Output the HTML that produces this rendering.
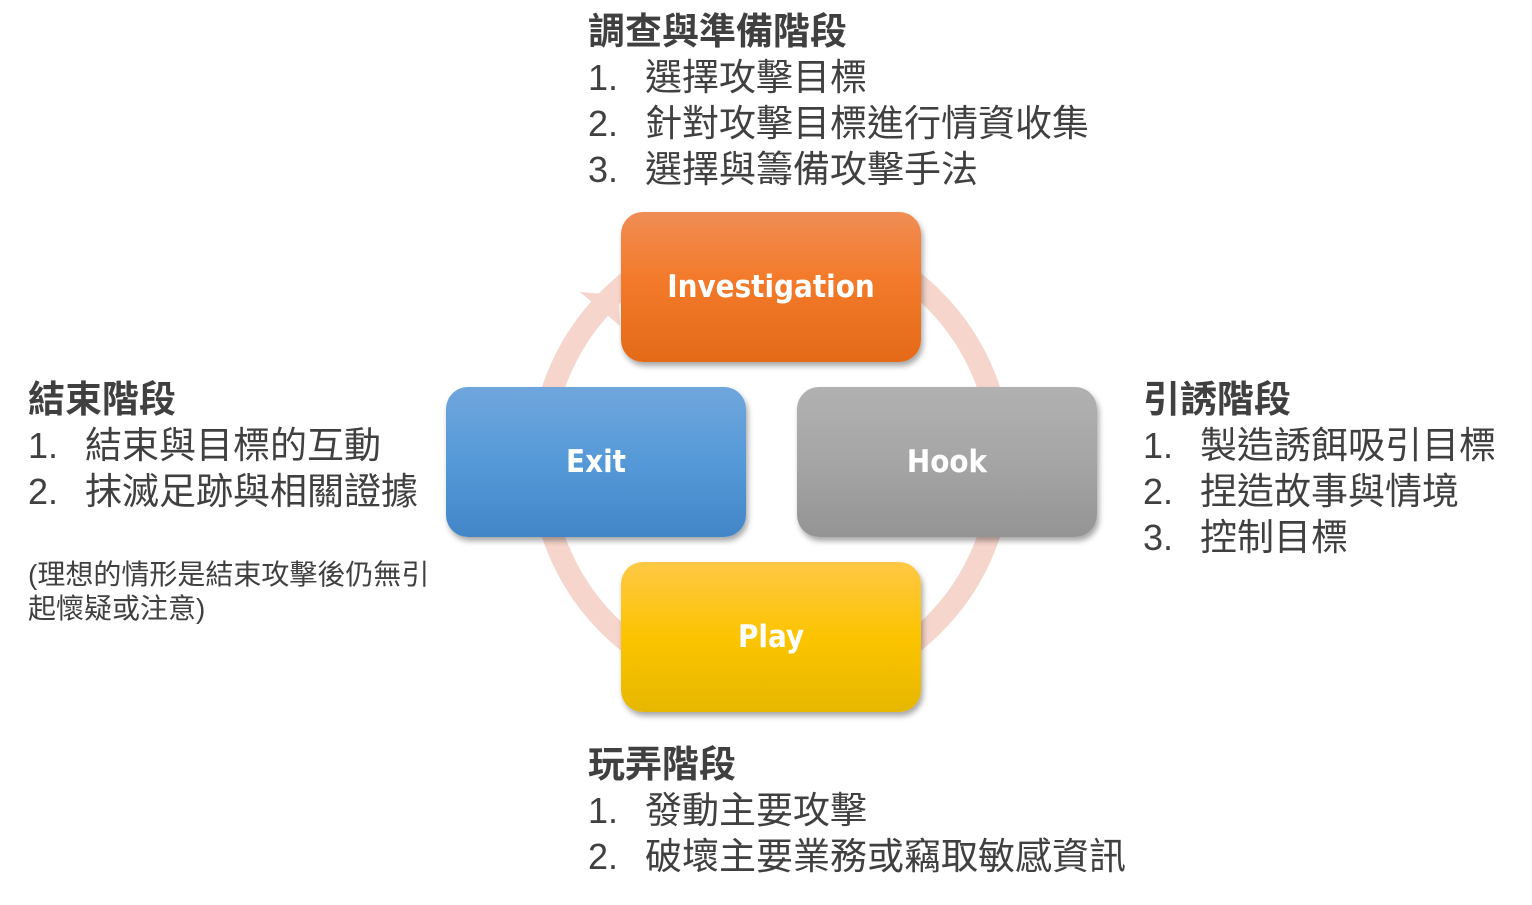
<!DOCTYPE html>
<html><head><meta charset="utf-8"><style>
body{margin:0;width:1532px;height:905px;background:#fff;position:relative;overflow:hidden;font-family:"Liberation Sans","Noto Sans CJK TC",sans-serif;color:#404040}
.t{position:absolute;font-size:37px;line-height:46px;white-space:nowrap}
.t b{font-weight:bold;display:block;font-size:37px}
.t span{display:inline-block;width:57px;font-size:36px}
.box{position:absolute;width:300px;height:150px;border-radius:22px;color:#fff;font-weight:bold;font-size:31px;display:flex;align-items:center;justify-content:center;box-shadow:2px 4px 6px rgba(0,0,0,.35);font-family:"DejaVu Sans Condensed","Liberation Sans",sans-serif}
</style></head><body>
<svg width="1532" height="905" style="position:absolute;left:0;top:0">
<circle cx="771" cy="462" r="230" fill="none" stroke="#f6d6cc" stroke-width="22"/>
<polygon points="580,292 618,295 620,326" fill="#f6d6cc"/>
</svg>
<div class="box" style="left:621px;top:212px;background:linear-gradient(#f08d55,#f37a2a 45%,#e46a18)">Investigation</div>
<div class="box" style="left:446px;top:387px;background:linear-gradient(#6fa6dc,#5599d8 50%,#4286c8)">Exit</div>
<div class="box" style="left:797px;top:387px;background:linear-gradient(#b1b1b1,#a5a5a5 50%,#949494)">Hook</div>
<div class="box" style="left:621px;top:562px;background:linear-gradient(#ffc846,#fcc400 50%,#e6b700)">Play</div>

<div class="t" style="left:588px;top:9px"><b>調查與準備階段</b><span>1.</span>選擇攻擊目標<br><span>2.</span>針對攻擊目標進行情資收集<br><span>3.</span>選擇與籌備攻擊手法</div>
<div class="t" style="left:28px;top:377px"><b>結束階段</b><span>1.</span>結束與目標的互動<br><span>2.</span>抹滅足跡與相關證據</div>
<div class="t" style="left:28px;top:558px;font-size:28px;line-height:34px">(理想的情形是結束攻擊後仍無引<br>起懷疑或注意)</div>
<div class="t" style="left:1143px;top:377px"><b>引誘階段</b><span>1.</span>製造誘餌吸引目標<br><span>2.</span>捏造故事與情境<br><span>3.</span>控制目標</div>
<div class="t" style="left:588px;top:742px"><b>玩弄階段</b><span>1.</span>發動主要攻擊<br><span>2.</span>破壞主要業務或竊取敏感資訊</div>
</body></html>
